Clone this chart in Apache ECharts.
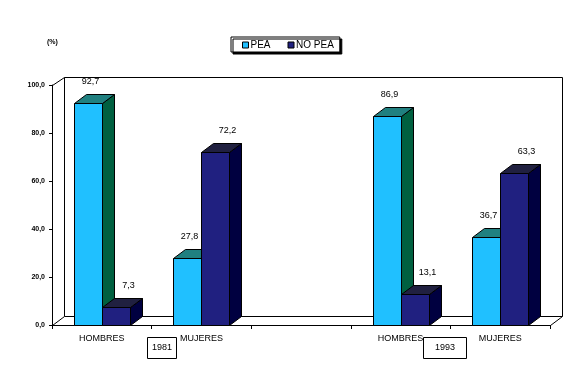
<!DOCTYPE html>
<html><head><meta charset="utf-8">
<script src="https://cdn.jsdelivr.net/npm/echarts@6/dist/echarts.min.js"></script>
<style>html,body{margin:0;padding:0;background:#fff}#c{width:588px;height:369px}</style>
</head><body><div id="c"></div>
<script>
const categories = ['HOMBRES', 'MUJERES', '', 'HOMBRES', 'MUJERES'];
const peaValues = [92.7, 27.8, null, 86.9, 36.7];
const noPeaValues = [7.3, 72.2, null, 13.1, 63.3];
const yTicks = [0, 20, 40, 60, 80, 100];
const seriesNames = ['PEA', 'NO PEA'];
const yearLabels = ['1981', '1993'];

const FONT = 'Liberation Sans, Arial, sans-serif';
const DX = 12, DY = -9;
const palettes = [
  {front: '#20C0FF', top: '#208080', side: '#006040'},
  {front: '#202080', top: '#202040', side: '#000040'}
];
const fmt = v => v.toFixed(1).replace('.', ',');

function barRenderer(si) {
  return function (params, api) {
    const v = api.value(1);
    if (v == null || isNaN(v)) return;
    const x = api.value(0);
    const base = api.coord([x, 0]);
    const top = api.coord([x, v]);
    const band = api.size([1, 0])[0];
    const bw = Math.round(band * 0.28);
    const left = Math.round(si === 0 ? base[0] - bw : base[0]) + 0.5;
    const ty = Math.round(top[1]) + 0.5, by = Math.round(base[1]) + 0.5;
    const p = palettes[si];
    const st = {stroke: '#000', lineWidth: 1};
    return {
      type: 'group',
      children: [
        {type: 'polygon', shape: {points: [[left + bw, ty], [left + bw + DX, ty + DY], [left + bw + DX, by + DY], [left + bw, by]]}, style: Object.assign({fill: p.side}, st)},
        {type: 'polygon', shape: {points: [[left, ty], [left + DX, ty + DY], [left + bw + DX, ty + DY], [left + bw, ty]]}, style: Object.assign({fill: p.top}, st)},
        {type: 'rect', shape: {x: left, y: ty, width: bw, height: by - ty}, style: Object.assign({fill: p.front}, st)},
        {type: 'text', x: left + bw / 2 + (si === 0 ? 2 : 12), y: ty - 22,
          style: {text: fmt(v), font: '9px ' + FONT, fill: '#000', align: 'center', verticalAlign: 'middle'}}
      ]
    };
  };
}

function frameRenderer(params, api) {
  const cs = params.coordSys;
  const x0 = Math.round(cs.x) + 0.5, y0 = Math.round(cs.y) + 0.5;
  const x1 = x0 + Math.round(cs.width), y1 = y0 + Math.round(cs.height);
  const st = {fill: 'none', stroke: '#000', lineWidth: 1};
  return {
    type: 'group',
    children: [
      {type: 'rect', shape: {x: x0 + DX, y: y0 + DY + 1, width: x1 - x0, height: y1 - y0 - 1}, style: st},
      {type: 'polyline', shape: {points: [[x0, y0], [x0 + DX, y0 + DY + 1]]}, style: st},
      {type: 'polyline', shape: {points: [[x0, y1], [x0 + DX, y1 + DY]]}, style: st},
      {type: 'polyline', shape: {points: [[x1, y1], [x1 + DX, y1 + DY]]}, style: st}
    ]
  };
}

const chart = echarts.init(document.getElementById('c'), null, {renderer: 'canvas'});
chart.setOption({
  animation: false,
  backgroundColor: '#fff',
  grid: {left: 52, right: 38, top: 85, bottom: 44},
  legend: {
    data: seriesNames,
    left: 231, top: 37,
    orient: 'horizontal',
    icon: 'rect', itemWidth: 6, itemHeight: 6, itemGap: 17,
    padding: [3, 6, 2, 11],
    backgroundColor: '#fff',
    borderColor: '#000', borderWidth: 1, borderRadius: 0,
    shadowColor: '#000', shadowBlur: 0, shadowOffsetX: 2, shadowOffsetY: 2,
    itemStyle: {borderColor: '#000', borderWidth: 1},
    textStyle: {fontFamily: FONT, fontSize: 10, color: '#000', padding: [0, 0, 0, -3]}
  },
  xAxis: {
    type: 'category', data: categories,
    axisLine: {show: true, lineStyle: {color: '#000', width: 1}},
    axisTick: {show: true, interval: 0, length: 4, lineStyle: {color: '#000'}},
    axisLabel: {interval: 0, margin: 9, fontFamily: FONT, fontSize: 9, color: '#000'},
    splitLine: {show: false}
  },
  yAxis: {
    type: 'value', min: yTicks[0], max: yTicks[yTicks.length - 1], interval: yTicks[1] - yTicks[0],
    axisLine: {show: true, lineStyle: {color: '#000', width: 1}},
    axisTick: {show: true, length: 3, lineStyle: {color: '#000'}},
    axisLabel: {margin: 7, fontFamily: FONT, fontSize: 7, fontWeight: 'bold', color: '#000', formatter: fmt},
    splitLine: {show: false}
  },
  graphic: [
    {type: 'text', left: 47, top: 39, style: {text: '(%)', font: 'bold 7px ' + FONT, fill: '#000'}},
    {type: 'group', left: 147, top: 337, children: [
      {type: 'rect', shape: {x: 0.5, y: 0.5, width: 29, height: 21}, style: {fill: '#fff', stroke: '#000', lineWidth: 1}},
      {type: 'text', x: 15, y: 11, style: {text: yearLabels[0], font: '9px ' + FONT, fill: '#000', align: 'center', verticalAlign: 'middle'}}
    ]},
    {type: 'group', left: 423, top: 337, children: [
      {type: 'rect', shape: {x: 0.5, y: 0.5, width: 43, height: 21}, style: {fill: '#fff', stroke: '#000', lineWidth: 1}},
      {type: 'text', x: 22, y: 11, style: {text: yearLabels[1], font: '9px ' + FONT, fill: '#000', align: 'center', verticalAlign: 'middle'}}
    ]}
  ],
  series: [
    {type: 'custom', name: 'frame', data: [[0, 0]], renderItem: frameRenderer, z: 1, silent: true},
    {type: 'custom', name: seriesNames[0], data: peaValues.map((v, i) => [i, v]), renderItem: barRenderer(0), z: 2,
      itemStyle: {color: palettes[0].front}},
    {type: 'custom', name: seriesNames[1], data: noPeaValues.map((v, i) => [i, v]), renderItem: barRenderer(1), z: 3,
      itemStyle: {color: palettes[1].front}}
  ]
});
</script></body></html>
